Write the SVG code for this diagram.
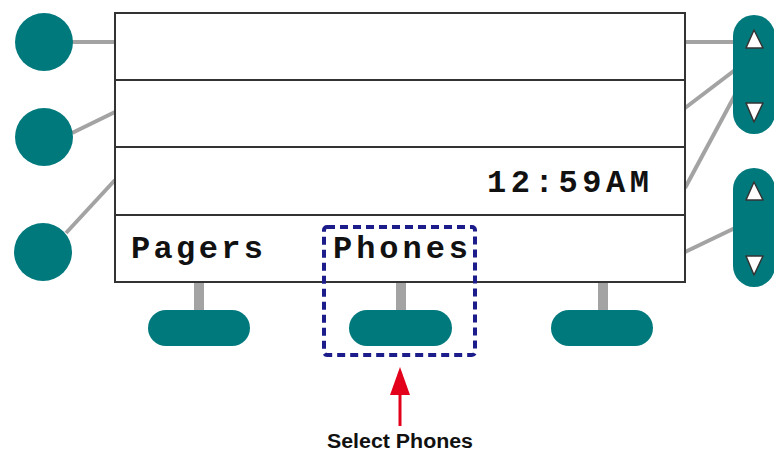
<svg xmlns="http://www.w3.org/2000/svg" width="774" height="452" viewBox="0 0 774 452">
<style>
.btn{fill:#00797c}
.conn{stroke:#a3a3a3;stroke-width:4;fill:none}
.stem{stroke:#a3a3a3;stroke-width:10;fill:none}
.screen{fill:#fff;stroke:#333;stroke-width:2}
.row{stroke:#333;stroke-width:2}
.lcd{font-family:"Liberation Mono","Courier New",monospace;font-weight:bold;font-size:32px;fill:#111}
.tri{fill:#fff;stroke:#333;stroke-width:1.5;stroke-linejoin:round}
.cap{font-family:"Liberation Sans",Arial,sans-serif;font-weight:bold;font-size:20px;fill:#111}
</style>
<rect width="774" height="452" fill="#fff"/>
<g id="connectors">
<line class="conn" x1="72" y1="42" x2="115" y2="42"/>
<line class="conn" x1="72" y1="133" x2="115" y2="112"/>
<line class="conn" x1="66" y1="233" x2="115" y2="180"/>
<line class="conn" x1="685" y1="42" x2="735" y2="42"/>
<line class="conn" x1="685" y1="108" x2="735" y2="70"/>
<line class="conn" x1="685" y1="188" x2="735" y2="95"/>
<line class="conn" x1="685" y1="252" x2="735" y2="228"/>
<line class="stem" x1="199" y1="282" x2="199" y2="312"/>
<line class="stem" x1="401" y1="282" x2="401" y2="312"/>
<line class="stem" x1="603" y1="282" x2="603" y2="312"/>
</g>
<g id="screen">
<rect class="screen" x="115" y="13" width="570" height="269"/>
<line class="row" x1="115" y1="80" x2="685" y2="80"/>
<line class="row" x1="115" y1="147" x2="685" y2="147"/>
<line class="row" x1="115" y1="215" x2="685" y2="215"/>
<text class="lcd" x="487" y="192" textLength="162" lengthAdjust="spacing">12:59AM</text>
<text class="lcd" x="131" y="258" textLength="132" lengthAdjust="spacing">Pagers</text>
<text class="lcd" x="333" y="258" textLength="135" lengthAdjust="spacing">Phones</text>
</g>
<g id="line-key-1"><circle class="btn" cx="44" cy="42" r="29"/></g>
<g id="line-key-2"><circle class="btn" cx="44" cy="137" r="29"/></g>
<g id="line-key-3"><circle class="btn" cx="43" cy="252" r="29"/></g>
<g id="scroll-1">
<rect class="btn" x="733" y="15" width="42" height="119" rx="21"/>
<polygon class="tri" points="754,30 746,48 763,48"/>
<polygon class="tri" points="746,103 763,103 754,122"/>
</g>
<g id="scroll-2">
<rect class="btn" x="733" y="168" width="42" height="119" rx="21"/>
<polygon class="tri" points="754,182 746,200 763,200"/>
<polygon class="tri" points="746,256 763,256 754,275"/>
</g>
<g id="softkey-1"><rect class="btn" x="148" y="310" width="102" height="36" rx="18"/></g>
<g id="softkey-2"><rect class="btn" x="349" y="310" width="103" height="36" rx="18"/></g>
<g id="softkey-3"><rect class="btn" x="551" y="310" width="102" height="36" rx="18"/></g>
<g id="highlight"><rect x="324" y="227" width="151" height="128" rx="3" fill="none" stroke="#1c1c8a" stroke-width="4" stroke-dasharray="8 5"/></g>
<g id="callout">
<line x1="400" y1="392" x2="400" y2="426" stroke="#e3001b" stroke-width="3"/>
<polygon points="400,367 390,395 410,395" fill="#e3001b"/>
<text class="cap" x="400" y="448" text-anchor="middle" textLength="146" lengthAdjust="spacingAndGlyphs">Select Phones</text>
</g>
</svg>
